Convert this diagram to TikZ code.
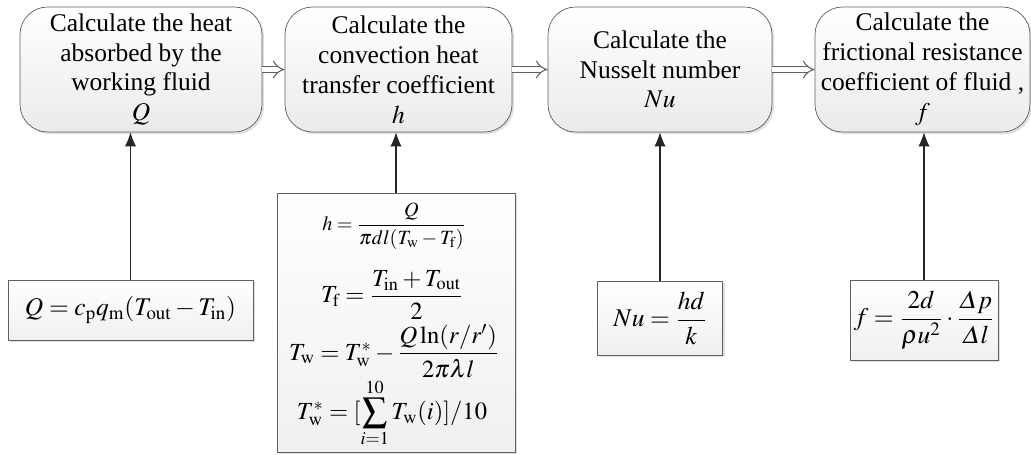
\documentclass[tikz,border=0pt]{standalone}
\usepackage{amsmath}
\usepackage{mathptmx}
\usepackage{fontspec}
\setmainfont{Liberation Serif}
\usetikzlibrary{arrows.meta,shadows}
\begin{document}
\begin{tikzpicture}[x=0.02cm,y=-0.02cm,
	stage/.style={draw=gray!75!black,rounded corners=0.55cm,top color=white,bottom color=gray!16,
		drop shadow={opacity=0.25,shadow xshift=1.2pt,shadow yshift=-1.2pt},
		align=center,inner sep=0pt,minimum height=2.5cm,font=\fontsize{14.5}{17}\selectfont},
	formula/.style={draw=gray!75!black,top color=white,bottom color=gray!12,
		drop shadow={opacity=0.25,shadow xshift=1.2pt,shadow yshift=-1.2pt},
		inner sep=0pt,font=\fontsize{14.5}{18}\selectfont},
	line/.style={inner sep=0pt,font=\fontsize{14}{17}\selectfont},
	flow/.style={draw=gray!75!black,double=white,double distance=3pt,line width=0.6pt,-{Implies[scale=1.8]}},
	feed/.style={draw=gray!30!black,line width=0.8pt,-{Latex[length=8pt,width=6.5pt]}}]
	\useasboundingbox (0,0) rectangle (1031,454);
	% calculation steps
	\node[stage,minimum width=4.84cm] (heat) at (141,69.5) {Calculate the heat\\absorbed by the\\working fluid\\$Q$};
	\node[stage,minimum width=4.54cm] (conv) at (398.5,69.5) {Calculate the\\convection heat\\transfer coefficient\\$h$};
	\node[stage,minimum width=4.48cm] (nuss) at (660,69.5) {Calculate the\\Nusselt number\\$Nu$};
	\node[stage,minimum width=4.3cm] (fric) at (922.5,69.5) {Calculate the\\frictional resistance\\coefficient of fluid ,\\$f$};
	\draw[flow] (heat.east) -- (conv.west);
	\draw[flow] (conv.east) -- (nuss.west);
	\draw[flow] (nuss.east) -- (fric.west);
	% formulas
	\node[formula,minimum width=4.9cm,minimum height=1.2cm] (fQ) at (130.5,310) {$Q=c_\mathrm{p}q_\mathrm{m}(T_\mathrm{out}-T_\mathrm{in})$};
	\node[formula,minimum width=4.76cm,minimum height=5.18cm] (fh) at (396,322.5) {};
	\node[line,font=\fontsize{11.5}{13}\selectfont] (fh1) at (394,226) {$h=\dfrac{Q}{\pi dl(T_\mathrm{w}-T_\mathrm{f})}$};
	\node[line] (fh2) at (392,295) {$T_\mathrm{f}=\dfrac{T_\mathrm{in}+T_\mathrm{out}}{2}$};
	\node[line] (fh3) at (394,351) {$T_\mathrm{w}=T_\mathrm{w}^{*}-\dfrac{Q\ln(r/r')}{2\pi\lambda l}$};
	\node[line] (fh4) at (392,413) {$T_\mathrm{w}^{*}=[\displaystyle\sum_{i=1}^{10}T_\mathrm{w}(i)]/10$};
	\node[formula,minimum width=2.5cm,minimum height=1.48cm] (fNu) at (660,318) {$Nu=\dfrac{hd}{k}$};
	\node[formula,minimum width=2.96cm,minimum height=1.6cm] (ff) at (924,320) {$f=\dfrac{2d}{\rho u^2}\cdot\dfrac{\varDelta p}{\varDelta l}$};
	\draw[feed] (fQ.north) -- (fQ.north |- heat.south);
	\draw[feed] (fh.north) -- (fh.north |- conv.south);
	\draw[feed] (fNu.north) -- (fNu.north |- nuss.south);
	\draw[feed] (ff.north) -- (ff.north |- fric.south);
\end{tikzpicture}
\end{document}
